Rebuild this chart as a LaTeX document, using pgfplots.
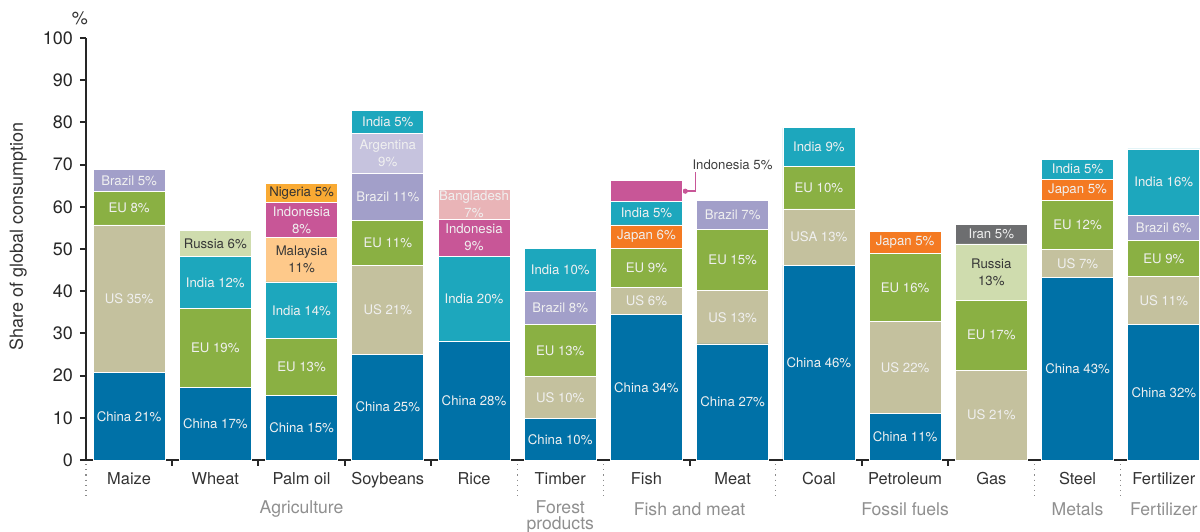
\documentclass[border=0pt]{standalone}
\usepackage{pgfplots}
\pgfplotsset{compat=1.18}
\usepackage{fontspec}
\setmainfont{TeX Gyre Heros}
\definecolor{cChina}{HTML}{0071A7}
\definecolor{cUS}{HTML}{C4C19E}
\definecolor{cEU}{HTML}{8AB043}
\definecolor{cIndia}{HTML}{1DA7BD}
\definecolor{cBrazil}{HTML}{A29FC9}
\definecolor{cArgentina}{HTML}{C6C3DE}
\definecolor{cRussia}{HTML}{CFDCAE}
\definecolor{cMalaysia}{HTML}{FEC98A}
\definecolor{cIndonesia}{HTML}{C85697}
\definecolor{cNigeria}{HTML}{F9AA33}
\definecolor{cBangladesh}{HTML}{E9B4B7}
\definecolor{cJapan}{HTML}{F47A22}
\definecolor{cIran}{HTML}{6D6E70}
\definecolor{cGroup}{HTML}{8F8F8F}
\begin{document}
\begin{tikzpicture}
\useasboundingbox (-43pt,-35.5pt) rectangle (557pt,230pt);
\begin{axis}[
  width=557pt, height=211pt, scale only axis,
  xmin=-0.5, xmax=12.42, ymin=0, ymax=100,
  axis lines=left,
  axis line style={-, line width=1pt, black!85},
  ybar stacked, bar width=36pt,
  ytick={0,10,...,100},
  tick align=outside, major tick length=3pt,
  ytick style={line width=1pt, black!85},
  xtick={0,...,12},
  xticklabels={Maize,Wheat,Palm oil,Soybeans,Rice,Timber,Fish,Meat,Coal,Petroleum,Gas,Steel,Fertilizer},
  xtick style={draw=none},
  x tick label style={font=\fontsize{8.2}{9}\selectfont, text=black!80, yshift=0.5pt},
  y tick label style={font=\fontsize{9}{10}\selectfont, text=black!85},
  /pgf/number format/assume math mode=true,
  every axis y label/.style={at={(axis description cs:0,0.53)}, xshift=-34pt, rotate=90, anchor=center, font=\fontsize{9}{10}\selectfont, text=black!80},
  ylabel={Share of global consumption},
  clip=false,
  point meta=explicit symbolic,
  nodes near coords,
  every node near coord/.append style={anchor=center, align=center, inner sep=0pt,
     font=\fontsize{6.6}{8.5}\selectfont, text=white!94!black},
]
% China
\addplot[fill=cChina, draw=white, line width=0.4pt] table[x=x, y=y, meta=label] {
x y label
0 20.7 {China 21\%}
1 17.1 {China 17\%}
2 15.4 {China 15\%}
3 25.1 {China 25\%}
4 28.0 {China 28\%}
5 9.8 {China 10\%}
6 34.5 {China 34\%}
7 27.5 {China 27\%}
8 46.2 {China 46\%}
9 11.0 {China 11\%}
10 0 {}
11 43.3 {China 43\%}
12 32.1 {China 32\%}
};
% US
\addplot[fill=cUS, draw=white, line width=0.4pt] table[x=x, y=y, meta=label] {
x y label
0 35.0 {US 35\%}
1 0 {}
2 0 {}
3 20.9 {US 21\%}
4 0 {}
5 9.9 {US 10\%}
6 6.3 {US 6\%}
7 12.6 {US 13\%}
8 13.3 {USA 13\%}
9 21.9 {US 22\%}
10 21.3 {US 21\%}
11 6.5 {US 7\%}
12 11.3 {US 11\%}
};
% EU
\addplot[fill=cEU, draw=white, line width=0.4pt] table[x=x, y=y, meta=label] {
x y label
0 7.9 {EU 8\%}
1 18.8 {EU 19\%}
2 13.3 {EU 13\%}
3 10.8 {EU 11\%}
4 0 {}
5 12.5 {EU 13\%}
6 9.4 {EU 9\%}
7 14.6 {EU 15\%}
8 10.0 {EU 10\%}
9 16.0 {EU 16\%}
10 16.6 {EU 17\%}
11 11.8 {EU 12\%}
12 8.7 {EU 9\%}
};
% Brazil
\addplot[fill=cBrazil, draw=white, line width=0.4pt] table[x=x, y=y, meta=label] {
x y label
0 5.3 {Brazil 5\%}
1 0 {}
2 0 {}
3 11.2 {Brazil 11\%}
4 0 {}
5 7.8 {Brazil 8\%}
6 0 {}
7 6.8 {Brazil 7\%}
8 0 {}
9 0 {}
10 0 {}
11 0 {}
12 5.9 {Brazil 6\%}
};
% Argentina
\addplot[fill=cArgentina, draw=white, line width=0.4pt] table[x=x, y=y, meta=label] {
x y label
0 0 {}
1 0 {}
2 0 {}
3 9.3 {Argentina\\9\%}
4 0 {}
5 0 {}
6 0 {}
7 0 {}
8 0 {}
9 0 {}
10 0 {}
11 0 {}
12 0 {}
};
% Japan
\addplot[fill=cJapan, draw=white, line width=0.4pt] table[x=x, y=y, meta=label] {
x y label
0 0 {}
1 0 {}
2 0 {}
3 0 {}
4 0 {}
5 0 {}
6 5.5 {Japan 6\%}
7 0 {}
8 0 {}
9 5.3 {Japan 5\%}
10 0 {}
11 4.9 {Japan 5\%}
12 0 {}
};
% India
\addplot[fill=cIndia, draw=white, line width=0.4pt] table[x=x, y=y, meta=label] {
x y label
0 0 {}
1 12.3 {India 12\%}
2 13.5 {India 14\%}
3 5.6 {India 5\%}
4 20.2 {India 20\%}
5 10.2 {India 10\%}
6 5.6 {India 5\%}
7 0 {}
8 9.2 {India 9\%}
9 0 {}
10 0 {}
11 4.8 {India 5\%}
12 15.7 {India 16\%}
};
% Russia
\addplot[fill=cRussia, draw=white, line width=0.4pt, every node near coord/.append style={text=black!78}] table[x=x, y=y, meta=label] {
x y label
0 0 {}
1 6.1 {Russia 6\%}
2 0 {}
3 0 {}
4 0 {}
5 0 {}
6 0 {}
7 0 {}
8 0 {}
9 0 {}
10 13.3 {Russia\\13\%}
11 0 {}
12 0 {}
};
% Malaysia
\addplot[fill=cMalaysia, draw=white, line width=0.4pt, every node near coord/.append style={text=black!78}] table[x=x, y=y, meta=label] {
x y label
0 0 {}
1 0 {}
2 10.5 {Malaysia\\11\%}
3 0 {}
4 0 {}
5 0 {}
6 0 {}
7 0 {}
8 0 {}
9 0 {}
10 0 {}
11 0 {}
12 0 {}
};
% Indonesia
\addplot[fill=cIndonesia, draw=white, line width=0.4pt] table[x=x, y=y, meta=label] {
x y label
0 0 {}
1 0 {}
2 8.3 {Indonesia\\8\%}
3 0 {}
4 8.9 {Indonesia\\9\%}
5 0 {}
6 5.0 {}
7 0 {}
8 0 {}
9 0 {}
10 0 {}
11 0 {}
12 0 {}
};
% Nigeria
\addplot[fill=cNigeria, draw=white, line width=0.4pt, every node near coord/.append style={text=black!80}] table[x=x, y=y, meta=label] {
x y label
0 0 {}
1 0 {}
2 4.6 {Nigeria 5\%}
3 0 {}
4 0 {}
5 0 {}
6 0 {}
7 0 {}
8 0 {}
9 0 {}
10 0 {}
11 0 {}
12 0 {}
};
% Bangladesh
\addplot[fill=cBangladesh, draw=white, line width=0.4pt] table[x=x, y=y, meta=label] {
x y label
0 0 {}
1 0 {}
2 0 {}
3 0 {}
4 7.1 {Bangladesh\\7\%}
5 0 {}
6 0 {}
7 0 {}
8 0 {}
9 0 {}
10 0 {}
11 0 {}
12 0 {}
};
% Iran
\addplot[fill=cIran, draw=white, line width=0.4pt] table[x=x, y=y, meta=label] {
x y label
0 0 {}
1 0 {}
2 0 {}
3 0 {}
4 0 {}
5 0 {}
6 0 {}
7 0 {}
8 0 {}
9 0 {}
10 4.7 {Iran 5\%}
11 0 {}
12 0 {}
};

% callout for Fish / Indonesia
\draw[cIndonesia, line width=0.7pt] (axis cs:6.45,63.7) -- (axis cs:6.57,63.7) -- (axis cs:6.57,68.3);
\fill[cIndonesia] (axis cs:6.45,63.7) circle (1.3pt);
\node[anchor=west, inner sep=0pt, font=\fontsize{6.6}{8}\selectfont, text=black!75] at (axis cs:6.53,70.0) {Indonesia 5\%};

% category boundary ticks
\pgfplotsinvokeforeach{0.5,1.5,2.5,3.5,6.5,8.5,9.5}{
  \draw[line width=1pt, black!85] (axis cs:#1,0) -- ([yshift=-3.2pt]axis cs:#1,0);
}
% group separators
\pgfplotsinvokeforeach{-0.5,4.5,5.5,7.5,10.5,11.5}{
  \draw[line width=0.6pt, black!45, dotted] ([yshift=-2pt]axis cs:#1,0) -- ([yshift=-18pt]axis cs:#1,0);
}
% group labels
\node[font=\fontsize{8.8}{8}\selectfont, text=cGroup] at ([yshift=-24.5pt]axis cs:2,0) {Agriculture};
\node[font=\fontsize{8.8}{7.6}\selectfont, text=cGroup, align=center] at ([yshift=-28.5pt]axis cs:5,0) {Forest\\products};
\node[font=\fontsize{8.8}{8}\selectfont, text=cGroup] at ([yshift=-24.5pt]axis cs:6.5,0) {Fish and meat};
\node[font=\fontsize{8.8}{8}\selectfont, text=cGroup] at ([yshift=-24.5pt]axis cs:9,0) {Fossil fuels};
\node[font=\fontsize{8.8}{8}\selectfont, text=cGroup] at ([yshift=-24.5pt]axis cs:11,0) {Metals};
\node[font=\fontsize{8.8}{8}\selectfont, text=cGroup] at ([yshift=-24.5pt]axis cs:12,0) {Fertilizer};
% percent sign
\node[font=\fontsize{9}{10}\selectfont, text=black!80] at ([xshift=-3pt,yshift=10pt]axis cs:-0.5,100) {\%};
\end{axis}
\end{tikzpicture}
\end{document}
